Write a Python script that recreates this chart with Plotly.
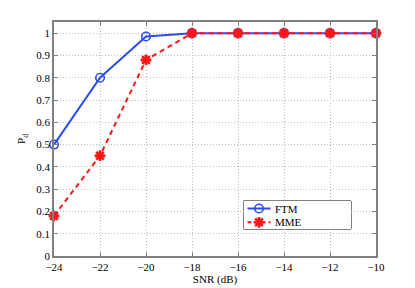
import plotly.graph_objects as go

snr = [-24, -22, -20, -18, -16, -14, -12, -10]
ftm = [0.5, 0.8, 0.985, 1, 1, 1, 1, 1]
mme = [0.18, 0.45, 0.88, 1, 1, 1, 1, 1]
series_names = ["FTM", "MME"]
xticks = [-24, -22, -20, -18, -16, -14, -12, -10]
xlabels = ["\u221224", "\u221222", "\u221220", "\u221218", "\u221216", "\u221214", "\u221212", "\u221210"]
yticks = [0, 0.1, 0.2, 0.3, 0.4, 0.5, 0.6, 0.7, 0.8, 0.9, 1]
ylabels = ["0", "0.1", "0.2", "0.3", "0.4", "0.5", "0.6", "0.7", "0.8", "0.9", "1"]

W, H = 415, 288
L, R, T, B = 54, 39, 22, 32
pw, ph = W - L - R, H - T - B

BLUE = "#2b4df2"
RED = "#ff1414"
FONT = "Liberation Serif"

ftm_line = dict(color=BLUE, width=2)
ftm_marker = dict(symbol="circle-open", size=8.5, color=BLUE, line=dict(width=1.6, color=BLUE))
mme_line = dict(color=RED, width=2, dash="5px,4px")
mme_marker = dict(symbol="asterisk-open", size=9, color=RED, line=dict(width=2.6, color=RED))

fig = go.Figure()
fig.add_trace(go.Scatter(x=snr, y=ftm, name=series_names[0], mode="lines+markers", cliponaxis=False,
                         line=ftm_line, marker=ftm_marker, showlegend=False))
fig.add_trace(go.Scatter(x=snr, y=mme, name=series_names[1], mode="lines+markers", cliponaxis=False,
                         line=mme_line, marker=mme_marker, showlegend=False))

# custom legend box (pixel geometry)
lx0, lx1, ly0, ly1 = 243.5, 351, 201, 229
dom_x = [(lx0 - L) / pw, (lx1 - L) / pw]
dom_y = [1 - (ly1 - T) / ph, 1 - (ly0 - T) / ph]
lw, lh = lx1 - lx0, ly1 - ly0
rows = [lh - 7.5, lh - 21.3]
fig.add_trace(go.Scatter(x=[4, 15.5, 27], y=[rows[0]] * 3, mode="lines", line=ftm_line,
                         xaxis="x2", yaxis="y2", showlegend=False, hoverinfo="skip"))
fig.add_trace(go.Scatter(x=[15.5], y=[rows[0]], mode="markers", marker=ftm_marker,
                         xaxis="x2", yaxis="y2", showlegend=False, hoverinfo="skip"))
fig.add_trace(go.Scatter(x=[4, 15.5, 27], y=[rows[1]] * 3, mode="lines",
                         line=dict(color=RED, width=2, dash="4px,3px"),
                         xaxis="x2", yaxis="y2", showlegend=False, hoverinfo="skip"))
fig.add_trace(go.Scatter(x=[15.5], y=[rows[1]], mode="markers", marker=mme_marker,
                         xaxis="x2", yaxis="y2", showlegend=False, hoverinfo="skip"))
for name, ry in zip(series_names, rows):
    fig.add_annotation(x=29, y=ry, xref="x2", yref="y2", text=name, showarrow=False,
                       xanchor="left", yanchor="middle", font=dict(family=FONT, size=11, color="#000"))
fig.add_shape(type="rect", xref="x2 domain", yref="y2 domain", x0=0, x1=1, y0=0, y1=1,
              line=dict(color="#000", width=1), fillcolor="white", layer="below")

axis_common = dict(
    showline=True, linecolor="#808080", linewidth=1.5, mirror="ticks",
    ticks="inside", ticklen=4, tickcolor="#808080",
    showgrid=True, gridcolor="#bdbdbd", griddash="1px,2px", gridwidth=1,
    zeroline=False,
    tickfont=dict(family=FONT, size=11, color="#000"),
)

fig.update_layout(
    width=W, height=H,
    margin=dict(l=L, r=R, t=T, b=B, autoexpand=False),
    paper_bgcolor="white", plot_bgcolor="white",
    font=dict(family=FONT, size=11, color="#000"),
    xaxis=dict(range=[-24, -10], tickvals=xticks, ticktext=xlabels, automargin=False,
               title=dict(text="SNR (dB)", standoff=3, font=dict(size=11)), **axis_common),
    yaxis=dict(range=[0, 1.05], tickvals=yticks, ticktext=ylabels, automargin=False,
               title=dict(text="P<sub>d</sub>", standoff=8, font=dict(size=11)), **axis_common),
    xaxis2=dict(domain=dom_x, range=[0, lw], visible=False, fixedrange=True, anchor="y2"),
    yaxis2=dict(domain=dom_y, range=[0, lh], visible=False, fixedrange=True, anchor="x2"),
    showlegend=False,
)

fig.write_html("out.html", config={"displayModeBar": False},
               post_script="document.body.style.margin='0';document.body.style.padding='0';")
